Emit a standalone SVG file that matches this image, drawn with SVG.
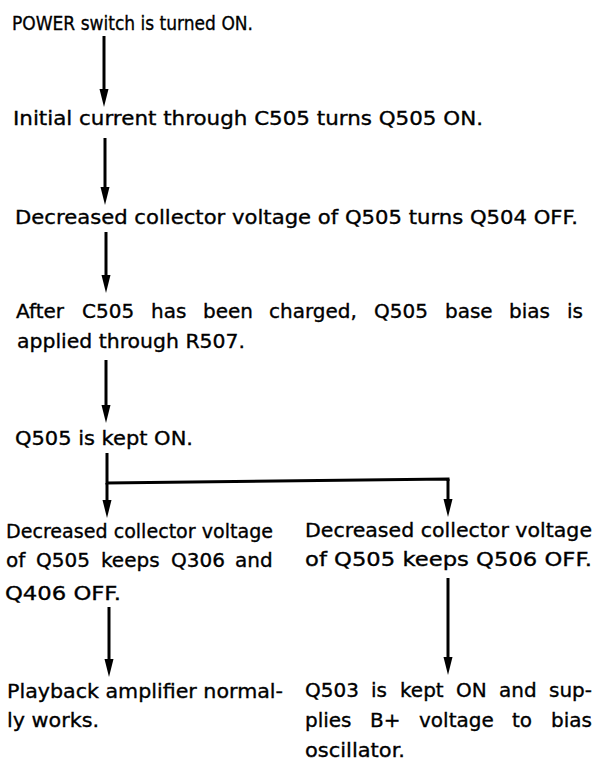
<svg xmlns="http://www.w3.org/2000/svg" width="598" height="765" viewBox="0 0 598 765">
<defs>
<style>
text { font-family: "DejaVu Sans", "Liberation Sans", sans-serif; font-size: 20px; fill: #000; stroke: #000; stroke-width: 0.35px; }
.wire { stroke: #000; stroke-width: 3; fill: none; }
.arr { marker-end: url(#head); }
</style>
<marker id="head" viewBox="0 0 18 10" refX="8" refY="5" markerWidth="18" markerHeight="10" markerUnits="userSpaceOnUse" orient="auto">
<path d="M0,0.5 L18,5 L0,9.5 Z" fill="#000"/>
</marker>
</defs>
<rect width="598" height="765" fill="#fff"/>
<g id="connectors">
<line class="wire arr" x1="104" y1="36" x2="104" y2="97"/>
<line class="wire arr" x1="105" y1="138" x2="105" y2="195"/>
<line class="wire arr" x1="106" y1="232" x2="106" y2="283"/>
<line class="wire arr" x1="106" y1="360" x2="106" y2="413"/>
<polyline class="wire" points="107,453 107,483 448,479 448,481"/>
<line class="wire arr" x1="107" y1="483" x2="107" y2="508"/>
<line class="wire arr" x1="448" y1="479" x2="448" y2="507"/>
<line class="wire arr" x1="109" y1="607" x2="109" y2="667"/>
<line class="wire arr" x1="448" y1="578" x2="448" y2="665"/>
</g>
<g id="n1"><text x="12" y="30" textLength="241" lengthAdjust="spacingAndGlyphs">POWER switch is turned ON.</text></g>
<g id="n2"><text x="13" y="125" textLength="470" lengthAdjust="spacingAndGlyphs">Initial current through C505 turns Q505 ON.</text></g>
<g id="n3"><text x="15" y="224" textLength="563" lengthAdjust="spacingAndGlyphs">Decreased collector voltage of Q505 turns Q504 OFF.</text></g>
<g id="n4">
<text y="318"><tspan x="16">After</tspan><tspan x="82">C505</tspan><tspan x="151">has</tspan><tspan x="203">been</tspan><tspan x="269">charged,</tspan><tspan x="374">Q505</tspan><tspan x="445">base</tspan><tspan x="509">bias</tspan><tspan x="567">is</tspan></text>
<text x="17" y="348" textLength="228" lengthAdjust="spacingAndGlyphs">applied through R507.</text>
</g>
<g id="n5"><text x="15" y="445" textLength="178" lengthAdjust="spacingAndGlyphs">Q505 is kept ON.</text></g>
<g id="n6">
<text x="6" y="538" textLength="267" lengthAdjust="spacingAndGlyphs">Decreased collector voltage</text>
<text y="567"><tspan x="6">of</tspan><tspan x="36">Q505</tspan><tspan x="101">keeps</tspan><tspan x="171">Q306</tspan><tspan x="235">and</tspan></text>
<text x="5" y="600" textLength="116" lengthAdjust="spacingAndGlyphs">Q406 OFF.</text>
</g>
<g id="n7">
<text x="305" y="537" textLength="287" lengthAdjust="spacingAndGlyphs">Decreased collector voltage</text>
<text x="305" y="566" textLength="287" lengthAdjust="spacingAndGlyphs">of Q505 keeps Q506 OFF.</text>
</g>
<g id="n8">
<text x="7" y="698" textLength="276" lengthAdjust="spacingAndGlyphs">Playback amplifier normal-</text>
<text x="7" y="727" textLength="92" lengthAdjust="spacingAndGlyphs">ly works.</text>
</g>
<g id="n9">
<text y="697"><tspan x="305">Q503</tspan><tspan x="371">is</tspan><tspan x="400">kept</tspan><tspan x="456">ON</tspan><tspan x="499">and</tspan><tspan x="549">sup-</tspan></text>
<text y="727"><tspan x="305">plies</tspan><tspan x="370">B+</tspan><tspan x="419">voltage</tspan><tspan x="512">to</tspan><tspan x="551">bias</tspan></text>
<text x="305" y="757" textLength="100" lengthAdjust="spacingAndGlyphs">oscillator.</text>
</g>
</svg>
